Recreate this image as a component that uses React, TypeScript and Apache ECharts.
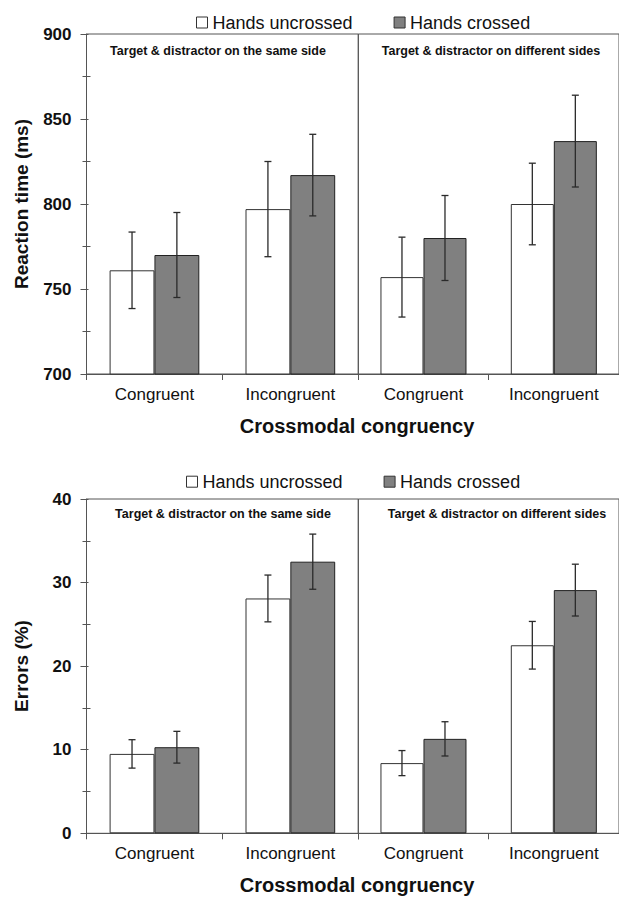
import React, { useEffect, useRef } from "react";
import * as echarts from "echarts";

const categories = ["Congruent", "Incongruent"];
const panelTitles = ["Target & distractor on the same side", "Target & distractor on different sides"];
const legendNames = ["Hands uncrossed", "Hands crossed"];
const xAxisTitle = "Crossmodal congruency";
const rtAxisTitle = "Reaction time (ms)";
const errAxisTitle = "Errors (%)";

// order: same side [Congruent, Incongruent], different sides [Congruent, Incongruent]
const rtUncrossed = [761, 797, 757, 800];
const rtUncrossedErr = [22.5, 28, 23.5, 24];
const rtCrossed = [770, 817, 780, 837];
const rtCrossedErr = [25, 24, 25, 27];

const errUncrossed = [9.5, 28.1, 8.4, 22.5];
const errUncrossedSE = [1.7, 2.8, 1.5, 2.85];
const errCrossed = [10.3, 32.5, 11.3, 29.1];
const errCrossedSE = [1.9, 3.3, 2.05, 3.1];

const rtAxis = { min: 700, max: 900, interval: 50 };
const errAxis = { min: 0, max: 40, interval: 10 };

const FONT = "'Liberation Sans', Arial, Helvetica, sans-serif";
const AXIS_COLOR = "#555";
const TEXT_COLOR = "#111";
const BAR_FRAC = 0.33;

export default function App() {
  const ref = useRef<HTMLDivElement>(null);

  useEffect(() => {
    if (!ref.current) return;
    const chart = echarts.init(ref.current, null, { renderer: "svg" });

    const grids = [
      { left: 86.5, top: 34, width: 271.8, height: 340 },
      { left: 358.3, top: 34, width: 271.8, height: 340 },
      { left: 86.5, top: 499, width: 271.8, height: 334.3 },
      { left: 358.3, top: 499, width: 271.8, height: 334.3 },
    ].map((g) => ({ ...g, show: true, borderColor: AXIS_COLOR, borderWidth: 1, backgroundColor: "transparent" }));

    const xAxis = grids.map((_, g) => ({
      type: "category",
      gridIndex: g,
      data: categories,
      axisLine: { lineStyle: { color: AXIS_COLOR, width: 1 } },
      axisTick: { show: true, length: 6, lineStyle: { color: AXIS_COLOR } },
      axisLabel: { fontSize: 17, color: TEXT_COLOR, fontFamily: FONT, margin: 12 },
      splitLine: { show: false },
    }));

    const yAxis: any[] = [];
    const yIdx: number[] = [];
    grids.forEach((_, g) => {
      const ax = g < 2 ? rtAxis : errAxis;
      const left = g % 2 === 0;
      yIdx[g] = yAxis.length;
      yAxis.push({
        type: "value",
        gridIndex: g,
        min: ax.min,
        max: ax.max,
        interval: ax.interval,
        show: left,
        position: "left",
        axisLine: { show: true, lineStyle: { color: AXIS_COLOR, width: 1 } },
        axisTick: { show: true, length: 6, lineStyle: { color: AXIS_COLOR } },
        minorTick: { show: true, splitNumber: 2, length: 4, lineStyle: { color: AXIS_COLOR } },
        axisLabel: { fontSize: 17, fontWeight: "bold", color: TEXT_COLOR, fontFamily: FONT, margin: 15 },
        splitLine: { show: false },
      });
      if (left) {
        yAxis.push({
          type: "value",
          gridIndex: g,
          min: ax.min,
          max: ax.max,
          interval: ax.interval,
          position: "left",
          axisLine: { show: false },
          axisTick: { show: true, inside: true, length: 2, lineStyle: { color: AXIS_COLOR } },
          minorTick: { show: true, splitNumber: 2, length: 4, lineStyle: { color: AXIS_COLOR } },
          axisLabel: { show: false },
          splitLine: { show: false },
        });
      }
    });

    const renderErr = (params: any, api: any) => {
      const x = api.value(0);
      const v = api.value(1);
      const e = api.value(2);
      const s = api.value(3);
      const band = api.size([1, 0])[0];
      const bw = band * BAR_FRAC;
      const c = api.coord([x, v]);
      const cx = c[0] + (s === 0 ? -bw / 2 : bw / 2);
      const top = api.coord([x, v + e])[1];
      const bot = api.coord([x, v - e])[1];
      const cap = 3.5;
      const style = { stroke: "#2a2a2a", lineWidth: 1.3 };
      return {
        type: "group",
        children: [
          { type: "line", shape: { x1: cx, y1: top, x2: cx, y2: bot }, style },
          { type: "line", shape: { x1: cx - cap, y1: top, x2: cx + cap, y2: top }, style },
          { type: "line", shape: { x1: cx - cap, y1: bot, x2: cx + cap, y2: bot }, style },
        ],
      };
    };

    const series: any[] = [];
    grids.forEach((_, g) => {
      const side = g % 2;
      const isRt = g < 2;
      const un = (isRt ? rtUncrossed : errUncrossed).slice(side * 2, side * 2 + 2);
      const unE = (isRt ? rtUncrossedErr : errUncrossedSE).slice(side * 2, side * 2 + 2);
      const cr = (isRt ? rtCrossed : errCrossed).slice(side * 2, side * 2 + 2);
      const crE = (isRt ? rtCrossedErr : errCrossedSE).slice(side * 2, side * 2 + 2);
      series.push({
        type: "bar",
        name: legendNames[0],
        xAxisIndex: g,
        yAxisIndex: yIdx[g],
        data: un,
        barWidth: `${BAR_FRAC * 100}%`,
        barGap: "0%",
        itemStyle: { color: "#ffffff", borderColor: "#333", borderWidth: 1 },
        z: 2,
      });
      series.push({
        type: "bar",
        name: legendNames[1],
        xAxisIndex: g,
        yAxisIndex: yIdx[g],
        data: cr,
        barWidth: `${BAR_FRAC * 100}%`,
        barGap: "0%",
        itemStyle: { color: "#808080", borderColor: "#222", borderWidth: 1 },
        z: 2,
      });
      const errData: number[][] = [];
      un.forEach((v, i) => errData.push([i, v, unE[i], 0]));
      cr.forEach((v, i) => errData.push([i, v, crE[i], 1]));
      series.push({
        type: "custom",
        xAxisIndex: g,
        yAxisIndex: yIdx[g],
        data: errData,
        renderItem: renderErr,
        z: 5,
        silent: true,
      });
    });

    const legendBase = {
      icon: "rect",
      itemWidth: 11,
      itemHeight: 11,
      itemGap: 41,
      selectedMode: false,
      textStyle: { fontSize: 18, color: TEXT_COLOR, fontFamily: FONT },
      data: [
        { name: legendNames[0], itemStyle: { color: "#ffffff", borderColor: "#333", borderWidth: 1 } },
        { name: legendNames[1], itemStyle: { color: "#808080", borderColor: "#333", borderWidth: 1 } },
      ],
    };

    const textStyle = (text: string, size: number, bold: boolean) => ({
      text,
      fill: TEXT_COLOR,
      font: `${bold ? "bold " : ""}${size}px ${FONT}`,
      textAlign: "center",
      textVerticalAlign: "middle",
    });

    const graphic: any[] = [
      { type: "text", x: 218, y: 50.7, style: textStyle(panelTitles[0], 12.5, true) },
      { type: "text", x: 491, y: 50.7, style: textStyle(panelTitles[1], 12.5, true) },
      { type: "text", x: 223, y: 514.3, style: textStyle(panelTitles[0], 12.5, true) },
      { type: "text", x: 497, y: 514.3, style: textStyle(panelTitles[1], 12.5, true) },
      { type: "text", x: 357, y: 425.7, style: textStyle(xAxisTitle, 20, true) },
      { type: "text", x: 357, y: 885, style: textStyle(xAxisTitle, 20, true) },
      { type: "text", x: 21.7, y: 204, rotation: Math.PI / 2, style: textStyle(rtAxisTitle, 19, true) },
      { type: "text", x: 21.7, y: 666, rotation: Math.PI / 2, style: textStyle(errAxisTitle, 19, true) },
    ];

    chart.setOption({
      animation: false,
      backgroundColor: "#ffffff",
      legend: [
        { ...legendBase, left: 191, top: 8.5 },
        { ...legendBase, left: 181, top: 467.7 },
      ],
      grid: grids,
      xAxis,
      yAxis,
      series,
      graphic,
    });

    return () => chart.dispose();
  }, []);

  return (
    <div
      ref={ref}
      style={{ position: "absolute", left: 0, top: 0, width: 619, height: 897, background: "#fff" }}
    />
  );
}
